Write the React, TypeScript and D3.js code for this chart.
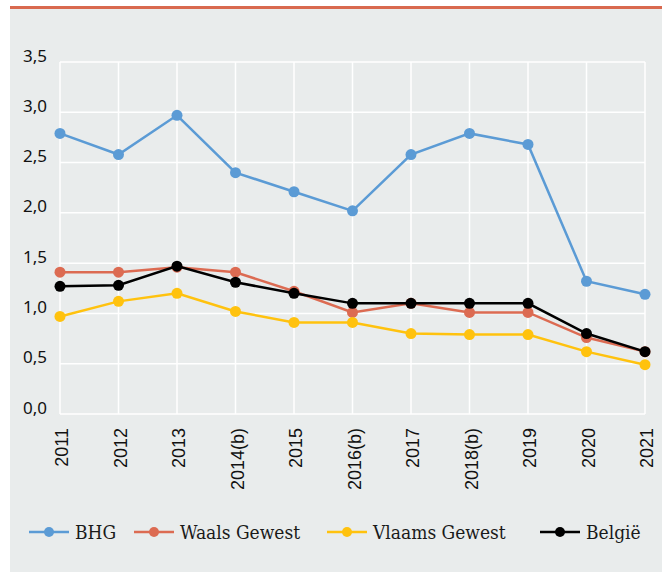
import React, { useEffect, useRef } from "react";
import * as d3 from "d3";

const years = ["2011", "2012", "2013", "2014(b)", "2015", "2016(b)", "2017", "2018(b)", "2019", "2020", "2021"];
const bhg = [2.79, 2.58, 2.97, 2.4, 2.21, 2.02, 2.58, 2.79, 2.68, 1.32, 1.19];
const waals = [1.41, 1.41, 1.46, 1.41, 1.22, 1.01, 1.1, 1.01, 1.01, 0.76, 0.62];
const vlaams = [0.97, 1.12, 1.2, 1.02, 0.91, 0.91, 0.8, 0.79, 0.79, 0.62, 0.49];
const belgie = [1.27, 1.28, 1.47, 1.31, 1.2, 1.1, 1.1, 1.1, 1.1, 0.8, 0.62];
const yTicks = [0, 0.5, 1, 1.5, 2, 2.5, 3, 3.5];

const series = [
  { name: "BHG", values: bhg, color: "#5b9bd5" },
  { name: "Waals Gewest", values: waals, color: "#dc6b52" },
  { name: "Vlaams Gewest", values: vlaams, color: "#ffc20e" },
  { name: "België", values: belgie, color: "#000000" },
];

const W = 662;
const H = 572;

const App = () => {
  const ref = useRef<SVGSVGElement>(null);

  useEffect(() => {
    if (!ref.current) return;
    const svg = d3.select(ref.current);
    svg.selectAll("*").remove();

    // Panel
    svg.append("rect").attr("x", 10).attr("y", 8).attr("width", W - 10).attr("height", H - 8).attr("fill", "#e9ecec");
    svg.append("rect").attr("x", 10).attr("y", 6).attr("width", W - 10).attr("height", 3).attr("fill", "#d9694f");

    const x = d3.scalePoint<string>().domain(years).range([60, 645]);
    const y = d3.scaleLinear().domain([0, 3.5]).range([414, 62]);

    // Grid
    svg
      .append("g")
      .selectAll("line.h")
      .data(yTicks)
      .enter()
      .append("line")
      .attr("x1", 60)
      .attr("x2", 645)
      .attr("y1", (d) => y(d))
      .attr("y2", (d) => y(d))
      .attr("stroke", "#ffffff")
      .attr("stroke-width", 1.5);

    svg
      .append("g")
      .selectAll("line.v")
      .data(years)
      .enter()
      .append("line")
      .attr("x1", (d) => x(d)!)
      .attr("x2", (d) => x(d)!)
      .attr("y1", y(3.5))
      .attr("y2", y(0))
      .attr("stroke", "#ffffff")
      .attr("stroke-width", 1.5);

    // Y labels
    svg
      .append("g")
      .selectAll("text")
      .data(yTicks)
      .enter()
      .append("text")
      .attr("x", 47)
      .attr("y", (d) => y(d) - 5)
      .attr("text-anchor", "end")
      .attr("dominant-baseline", "middle")
      .attr("font-family", "'Noto Sans', sans-serif")
      .attr("font-size", 17)
      .attr("fill", "#111")
      .text((d) => d3.format(".1f")(d).replace(".", ","));

    // X labels
    svg
      .append("g")
      .selectAll("text")
      .data(years)
      .enter()
      .append("text")
      .attr("transform", (d) => `translate(${x(d)! + 8}, 428) rotate(-90)`)
      .attr("text-anchor", "end")
      .attr("font-family", "'Liberation Sans', Arial, sans-serif")
      .attr("font-size", 18)
      .attr("fill", "#111")
      .text((d) => d);

    // Lines
    const line = d3
      .line<number>()
      .x((_, i) => x(years[i])!)
      .y((d) => y(d));

    series.forEach((s) => {
      const g = svg.append("g");
      g.append("path")
        .attr("d", line(s.values))
        .attr("fill", "none")
        .attr("stroke", s.color)
        .attr("stroke-width", 2.5);
      g.selectAll("circle")
        .data(s.values)
        .enter()
        .append("circle")
        .attr("cx", (_, i) => x(years[i])!)
        .attr("cy", (d) => y(d))
        .attr("r", 5.5)
        .attr("fill", s.color);
    });

    // Legend
    const legendX = [29, 134, 327, 540];
    const legend = svg
      .append("g")
      .selectAll("g")
      .data(series)
      .enter()
      .append("g")
      .attr("transform", (_, i) => `translate(${legendX[i]}, 532)`);
    legend
      .append("line")
      .attr("x1", 0)
      .attr("x2", 40)
      .attr("stroke", (d) => d.color)
      .attr("stroke-width", 2.5);
    legend
      .append("circle")
      .attr("cx", 20)
      .attr("r", 5)
      .attr("fill", (d) => d.color);
    legend
      .append("text")
      .attr("x", 46)
      .attr("dy", "0.35em")
      .attr("font-family", "'DejaVu Serif Condensed', 'DejaVu Serif', serif")
      .attr("font-size", 19)
      .attr("fill", "#1a1a1a")
      .text((d) => d.name);
  }, []);

  return (
    <svg
      ref={ref}
      width={W}
      height={H}
      style={{ position: "absolute", left: 0, top: 0, display: "block", background: "#fff" }}
    />
  );
};

export default App;
